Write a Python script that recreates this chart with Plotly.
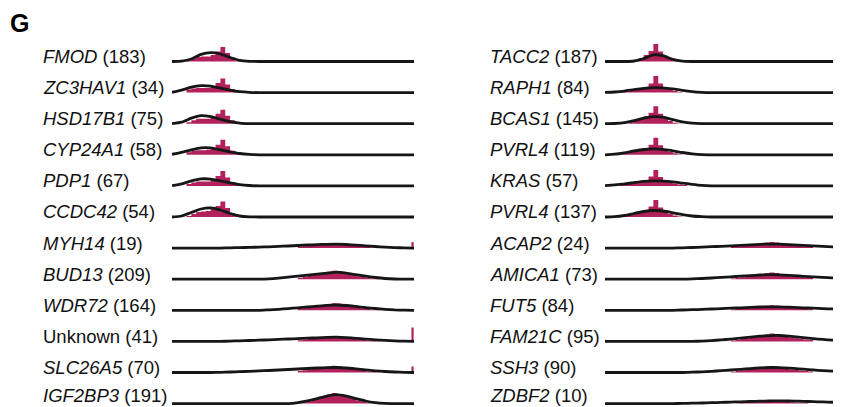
import plotly.graph_objects as go

W, H = 841, 407
OFF = 8  # page body margin compensation (px)
MAG = "#b3215c"
INK = "#161616"

# ---------------- labels ----------------
genes_left = ["FMOD", "ZC3HAV1", "HSD17B1", "CYP24A1", "PDP1", "CCDC42",
              "MYH14", "BUD13", "WDR72", "Unknown", "SLC26A5", "IGF2BP3"]
counts_left = [183, 34, 75, 58, 67, 54, 19, 209, 164, 41, 70, 191]
genes_right = ["TACC2", "RAPH1", "BCAS1", "PVRL4", "KRAS", "PVRL4",
               "ACAP2", "AMICA1", "FUT5", "FAM21C", "SSH3", "ZDBF2"]
counts_right = [187, 84, 145, 119, 57, 137, 24, 73, 84, 95, 90, 10]

# ---------------- density curves (x grid 0..100 step 4) ----------------
density_x = list(range(0, 101, 4))
density_left = [
    [0, 0.3, 2.5, 7.2, 8.8, 7.5, 4, 1.2, 0.2] + [0] * 17,
    [0.3, 2.5, 5.5, 7, 6.5, 4.5, 2.5, 1, 0.3] + [0] * 17,
    [0, 1.5, 5.5, 8, 7, 4.5, 2, 0.6, 0.1] + [0] * 17,
    [0.5, 2.5, 5, 7, 7, 5, 3, 1.3, 0.4] + [0] * 17,
    [0.2, 2, 5, 7, 6.8, 5, 3, 1.3, 0.4] + [0] * 17,
    [0, 1, 4.5, 8, 9, 7, 3.5, 1, 0.2] + [0] * 17,
    [0, 0, 0, 0, 0, 0, 0.3, 0.5, 0.7, 1, 1.3, 1.7, 2.1, 2.6, 3.1, 3.5, 3.8, 3.9, 3.6, 3, 2.3, 1.6, 1, 0.5, 0.2, 0],
    [0] * 10 + [0.3, 1, 2, 3, 4, 5, 6, 7, 6, 4.5, 3, 1.7, 0.7, 0.2, 0, 0],
    [0] * 10 + [0.5, 1, 1.7, 2.5, 3.3, 4.2, 5, 5.3, 4.8, 3.8, 2.7, 1.8, 1, 0.4, 0.1, 0],
    [0, 0, 0, 0, 0, 0, 0.3, 0.6, 0.9, 1.2, 1.6, 2, 2.4, 2.8, 3.2, 3.6, 4, 4.2, 3.8, 3.1, 2.3, 1.6, 1, 0.5, 0.2, 0],
    [0, 0, 0, 0, 0, 0.2, 0.5, 0.8, 1.2, 1.6, 2, 2.5, 3, 3.5, 4, 4.5, 4.9, 5, 4.5, 3.6, 2.6, 1.7, 1, 0.5, 0.2, 0],
    [0] * 13 + [1, 2.8, 5, 7.5, 9, 7.5, 5, 2.6, 1, 0.2, 0, 0, 0],
]
density_right = [
    [0, 0, 0, 0.5, 3, 6.6, 5.8, 2.1, 0.3] + [0] * 17,
    [0.2, 0.6, 1.5, 3, 4.3, 5, 4.8, 3.7, 2.2, 1, 0.3] + [0] * 15,
    [0, 0.2, 1, 3, 5.5, 7, 6.5, 4, 1.8, 0.5] + [0] * 16,
    [0, 0.6, 2, 3.8, 5.3, 6, 5.5, 4, 2.3, 1, 0.2] + [0] * 15,
    [0.2, 1, 2, 3.3, 4.5, 5, 4.8, 4, 2.8, 1.6, 0.6, 0.1] + [0] * 14,
    [0, 0.3, 1.5, 3.5, 5.5, 6.5, 6, 4.2, 2.3, 1, 0.3] + [0] * 15,
    [0] * 8 + [0.3, 0.6, 1, 1.4, 1.8, 2.3, 2.8, 3.3, 3.8, 4, 3.9, 3.5, 3, 2.5, 2, 1.5, 1.1, 0.8],
    [0] * 9 + [0.3, 0.7, 1.2, 1.8, 2.4, 3, 3.6, 4.2, 4.5, 4.3, 3.8, 3.2, 2.6, 2, 1.5, 1.1, 0.8],
    [0] * 8 + [0.3, 0.6, 0.9, 1.3, 1.7, 2.1, 2.5, 2.9, 3.3, 3.5, 3.4, 3.1, 2.7, 2.3, 1.9, 1.5, 1.2, 0.9],
    [0] * 10 + [0.3, 0.8, 1.5, 2.3, 3.2, 4.2, 5.2, 5.8, 5.9, 5.2, 4.2, 3.2, 2.3, 1.6, 1.1, 0.7],
    [0] * 9 + [0.3, 0.7, 1.2, 1.8, 2.5, 3.2, 3.9, 4.6, 5, 4.9, 4.4, 3.7, 2.9, 2.2, 1.6, 1.1, 0.7],
    [0] * 8 + [0.2, 0.4, 0.6, 0.9, 1.2, 1.5, 1.8, 2.1, 2.4, 2.6, 2.7, 2.6, 2.4, 2.1, 1.8, 1.5, 1.2, 1],
]

# ---------------- histograms (bin centres, bin width 2) ----------------
hist_x_top = list(range(7, 34, 2))      # 14 bins
hist_x_bottom = list(range(53, 86, 2))  # 17 bins
hist_left_top = [
    [1, 3, 4.5, 5, 5, 6.5, 10, 14.5, 8.5, 4, 1, 0, 0, 0],
    [3, 4, 4.5, 4.5, 4.5, 5.5, 9.5, 14, 8, 3.5, 1.2, 0.3, 0, 0],
    [1.5, 3.5, 5, 5, 5, 6, 10, 14, 8, 3.5, 1, 0, 0, 0],
    [2.5, 4, 4.5, 4.5, 5, 6, 10, 15, 8.5, 4, 1.5, 0.4, 0, 0],
    [2, 3.5, 4.5, 4.5, 4.5, 6, 10, 15, 8.5, 4, 1.5, 0.4, 0, 0],
    [1, 3, 5, 5.5, 6, 7.5, 11, 15.5, 9, 4, 1, 0, 0, 0],
]
hist_right_top = [
    [0, 0, 0.3, 1.5, 3.5, 6.5, 10.5, 17.5, 10, 5.5, 2.5, 0.5, 0, 0],
    [0.5, 1, 1.5, 2.5, 3.5, 5, 9, 16.5, 9, 5, 3, 1.5, 0.5, 0],
    [0, 0.3, 1.5, 3, 5, 7.5, 11, 17.5, 10, 6, 2.8, 1, 0.2, 0],
    [0.5, 1.5, 2.5, 3.5, 4.5, 6, 10, 17, 9.5, 5.5, 3, 1.5, 0.5, 0],
    [1, 1.8, 2.5, 3, 4, 5.5, 9.5, 16, 9, 5, 3.5, 2.5, 1.5, 0.8],
    [0.3, 1, 2, 3.5, 5, 7, 10.5, 17, 9.5, 5.5, 3, 1.5, 0.5, 0],
]
hist_left_bottom = [
    [1, 1.8, 2.5, 3, 3.2, 3.5, 4.5, 5, 4.8, 3.5, 3, 2.5, 2, 1.5, 1, 0.5, 0.2],
    [1.5, 2.5, 3.5, 4.4, 5, 5.6, 7.5, 8.5, 8, 6, 5, 4, 3, 2.2, 1.4, 0.8, 0.3],
    [1.2, 2, 2.8, 3.6, 4.2, 4.8, 6.2, 7, 6.7, 4.8, 4, 3.4, 2.6, 1.8, 1.2, 0.6, 0.2],
    [1.2, 1.8, 2.4, 3, 3.3, 3.6, 4.8, 5.5, 5.2, 3.6, 3, 2.6, 2, 1.5, 1, 0.5, 0.2],
    [1.5, 2.3, 3, 3.8, 4.3, 4.6, 6, 6.8, 6.5, 4.5, 3.8, 3.2, 2.4, 1.7, 1.1, 0.6, 0.2],
    [0.6, 1.4, 2.4, 3.6, 5, 6.5, 9, 10.5, 9.5, 7.5, 6, 4.5, 3, 2, 1, 0.4, 0.1],
]
hist_right_bottom = [
    [1, 1.6, 2.2, 2.7, 3.1, 3.4, 3.8, 5.5, 6, 5.5, 3.5, 3.2, 2.8, 2.4, 2, 1.6, 1.2],
    [0.8, 1.4, 2, 2.6, 3.1, 3.5, 4, 6, 6.8, 6.2, 3.8, 3.4, 3, 2.5, 2, 1.6, 1.2],
    [0.8, 1.2, 1.7, 2.2, 2.6, 2.9, 3.2, 4.5, 5, 4.5, 3.1, 2.8, 2.4, 2, 1.7, 1.3, 1],
    [0.8, 1.5, 2.3, 3.1, 3.9, 4.6, 5.2, 7, 8, 7.5, 5.2, 4.6, 3.9, 3.2, 2.6, 2, 1.5],
    [0.8, 1.5, 2.2, 2.9, 3.5, 4, 4.5, 6, 6.5, 6, 4.1, 3.6, 3, 2.5, 2, 1.5, 1],
    [0, 0.4, 0.8, 1.1, 1.3, 1.5, 1.6, 1.7, 1.7, 1.7, 1.6, 1.5, 1.4, 1.2, 1, 0.6, 0.2],
]
edge_x = [99.4]
edge_spike_left = [0, 0, 0, 0, 0, 0, 6, 0, 0, 14, 6, 0]

# ---------------- figure ----------------
fig = go.Figure()
layout_axes = {}
annotations = []

PANEL_W = 242.0
Y_LO, Y_HI = -3, 19
BIN_W = 2
FONT = "Liberation Sans, Arial, Helvetica, sans-serif"


def baseline(row):
    return 61.5 + row * 31.1 - OFF


def add_panel(n, col, row, dens, hist_x, hist_y, spike):
    xa = "x" if n == 1 else f"x{n}"
    ya = "y" if n == 1 else f"y{n}"
    x0 = (172 if col == 0 else 605) - OFF
    x1 = min(x0 + PANEL_W, W)
    xmax = 100 * (x1 - x0) / PANEL_W
    yb = baseline(row)
    # histogram as a stepped filled area (no seams between bins)
    edges = [c - BIN_W / 2 for c in hist_x] + [hist_x[-1] + BIN_W / 2]
    fig.add_trace(go.Scatter(x=edges, y=list(hist_y) + [0], mode="lines",
                             line=dict(width=0, shape="hv"), fill="tozeroy", fillcolor=MAG,
                             xaxis=xa, yaxis=ya, showlegend=False, hoverinfo="skip"))
    if spike:
        fig.add_trace(go.Bar(x=edge_x, y=[spike], width=0.9, marker=dict(color=MAG, line=dict(width=0)),
                             xaxis=xa, yaxis=ya, showlegend=False, hoverinfo="skip"))
    fig.add_trace(go.Scatter(x=density_x, y=dens, mode="lines",
                             line=dict(color=INK, width=2.8, shape="spline", smoothing=0.6),
                             xaxis=xa, yaxis=ya, showlegend=False, hoverinfo="skip"))
    key = "" if n == 1 else str(n)
    layout_axes["xaxis" + key] = dict(domain=[x0 / W, x1 / W], range=[0, xmax], visible=False,
                                      anchor=ya, fixedrange=True)
    layout_axes["yaxis" + key] = dict(domain=[(H - yb - 3) / H, (H - yb + 19) / H],
                                      range=[Y_LO, Y_HI], visible=False, anchor=xa, fixedrange=True)


def label(g, c):
    if g == "Unknown":
        return f"{g} ({c})"
    return f"<i>{g}</i> ({c})"


n = 1
for col, (genes, counts, dens_all, htop, hbot) in enumerate([
        (genes_left, counts_left, density_left, hist_left_top, hist_left_bottom),
        (genes_right, counts_right, density_right, hist_right_top, hist_right_bottom)]):
    for row in range(12):
        if row < 6:
            hx, hy = hist_x_top, htop[row]
        else:
            hx, hy = hist_x_bottom, hbot[row - 6]
        spike = edge_spike_left[row] if col == 0 else 0
        add_panel(n, col, row, dens_all[row], hx, hy, spike)
        lx = (41 if col == 0 else 488) - OFF
        lift = 8.5 if row == 11 else 5
        annotations.append(dict(text=label(genes[row], counts[row]), xref="paper", yref="paper",
                                x=lx / W, y=(H - (baseline(row) - lift)) / H, xanchor="left",
                                yanchor="middle", showarrow=False,
                                font=dict(family=FONT, size=18.5, color="#111")))
        n += 1

annotations.append(dict(text="<b>G</b>", xref="paper", yref="paper", x=0, y=(H - (23 - OFF)) / H,
                        xanchor="left", yanchor="middle", showarrow=False,
                        font=dict(family=FONT, size=25, color="#000")))

fig.update_layout(width=W, height=H, margin=dict(l=0, r=0, t=0, b=0),
                  paper_bgcolor="white", plot_bgcolor="rgba(0,0,0,0)",
                  barmode="overlay", annotations=annotations, **layout_axes)

fig.write_html("out.html", config={"displayModeBar": False})
